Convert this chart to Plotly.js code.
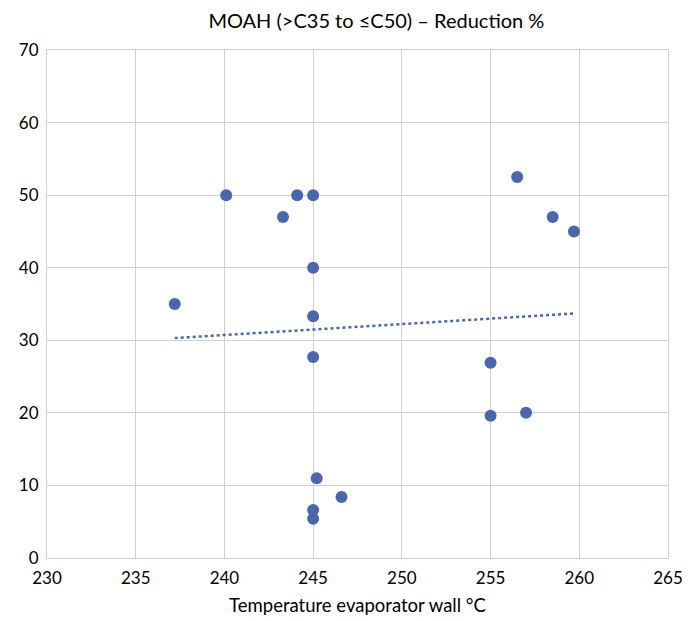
<!DOCTYPE html>
<html>
<head>
<meta charset="utf-8">
<script src="https://cdn.plot.ly/plotly-3.0.1.min.js"></script>
<style>html,body{margin:0;padding:0;background:#fff;}#chart{width:697px;height:621px;}</style>
</head>
<body>
<div id="chart"></div>
<script>
const temperature = [237.2, 240.1, 243.3, 244.1, 245.0, 245.0, 245.0, 245.0, 245.2, 246.6, 245.0, 245.0, 256.5, 258.5, 259.7, 255.0, 255.0, 257.0];
const reduction   = [35.0, 50.0, 47.0, 50.0, 50.0, 40.0, 33.3, 27.7, 11.0, 8.4, 6.6, 5.4, 52.5, 47.0, 45.0, 26.9, 19.6, 20.0];
const xTicks = [230, 235, 240, 245, 250, 255, 260, 265];
const yTicks = [0, 10, 20, 30, 40, 50, 60, 70];

// linear trendline (least squares) from the data
const n = temperature.length;
const mx = temperature.reduce((a,b)=>a+b,0)/n;
const my = reduction.reduce((a,b)=>a+b,0)/n;
let sxy = 0, sxx = 0;
for (let i=0;i<n;i++){ sxy += (temperature[i]-mx)*(reduction[i]-my); sxx += (temperature[i]-mx)**2; }
const slope = sxy/sxx, intercept = my - slope*mx;
const tx = [Math.min(...temperature), Math.max(...temperature)];
const ty = tx.map(x => intercept + slope*x);

const font = 'Lato, "Open Sans", sans-serif';
const blue = '#4A66AC';
const data = [
  {x: tx, y: ty, type: 'scatter', mode: 'lines', line: {color: blue, width: 2.5, dash: 'dot'}, hoverinfo: 'skip'},
  {x: temperature, y: reduction, type: 'scatter', mode: 'markers', marker: {color: blue, size: 12}}
];
const layout = {
  width: 697, height: 621,
  margin: {l: 47, r: 29, t: 50, b: 63},
  paper_bgcolor: '#fff', plot_bgcolor: '#fff',
  showlegend: false,
  title: {text: 'MOAH (>C35 to ≤C50) – Reduction %', font: {family: font, size: 20, color: '#000'}, x: 0.54, xanchor: 'center', y: 0.966, yanchor: 'middle'},
  xaxis: {range: [230, 265], tickvals: xTicks, ticktext: xTicks.map(String), showgrid: true, gridcolor: '#d0d0d0', gridwidth: 1,
          showline: true, linecolor: '#d0d0d0', linewidth: 1, mirror: true, zeroline: false, ticks: '',
          tickfont: {family: font, size: 17, color: '#000'}, ticklabelstandoff: 5,
          title: {text: 'Temperature evaporator wall °C', font: {family: font, size: 18.5, color: '#000'}, standoff: 11}},
  yaxis: {range: [0, 70], tickvals: yTicks, ticktext: yTicks.map(String), showgrid: true, gridcolor: '#d0d0d0', gridwidth: 1,
          showline: true, linecolor: '#d0d0d0', linewidth: 1, mirror: true, zeroline: false, ticks: '',
          tickfont: {family: font, size: 17, color: '#000'}, ticklabelstandoff: 4}
};
Plotly.newPlot('chart', data, layout, {displayModeBar: false, staticPlot: true});
</script>
</body>
</html>
